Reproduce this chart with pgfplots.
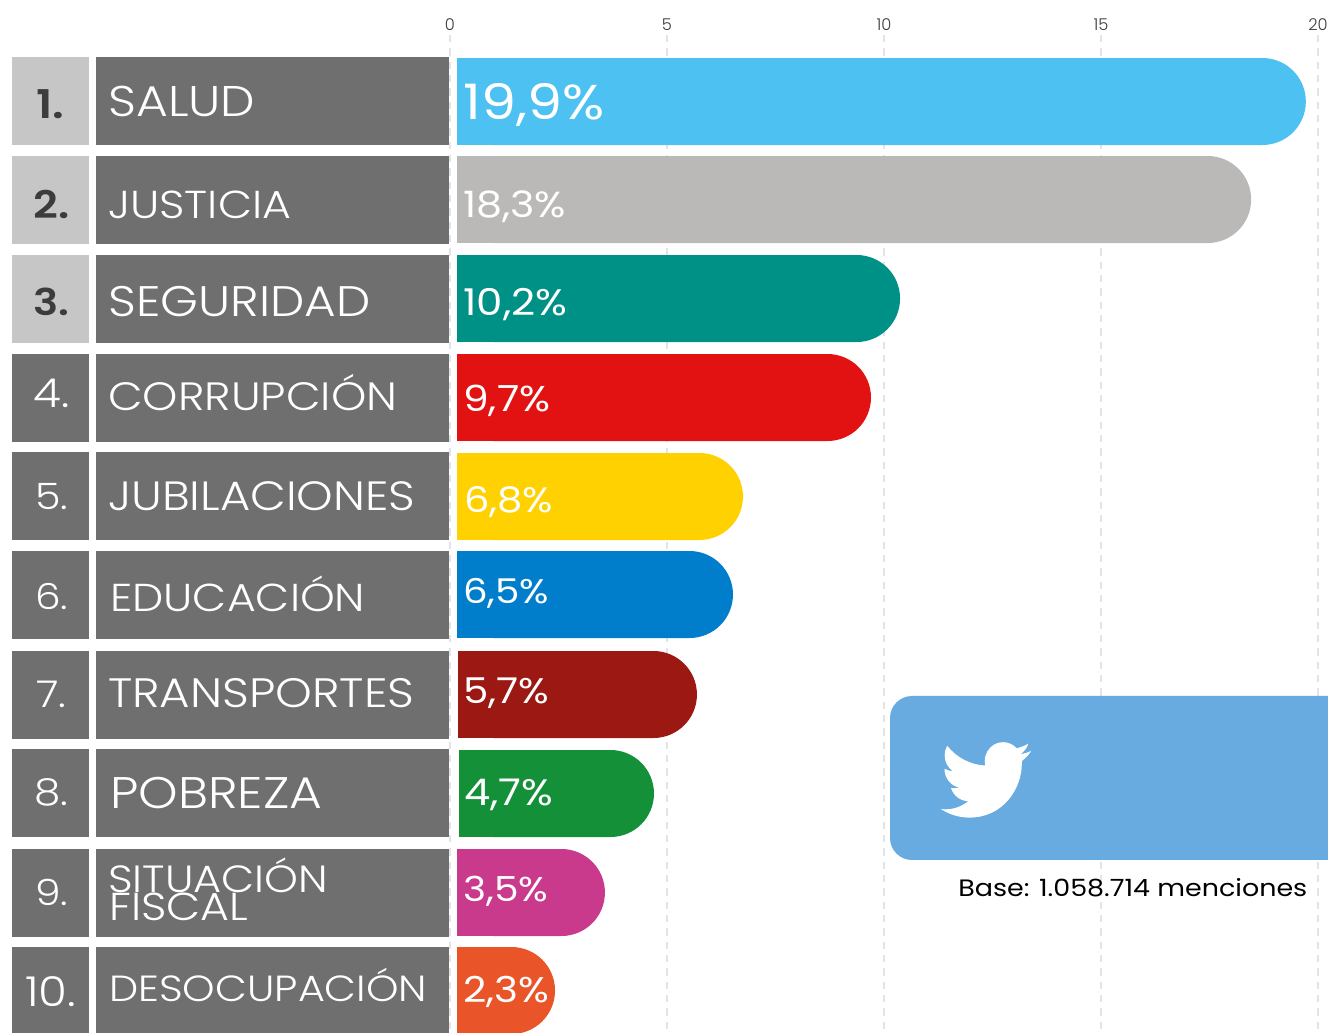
\documentclass[border=0pt]{standalone}
\usepackage{graphicx}
\usepackage{fontspec}
\usepackage{pgfplots}
\pgfplotsset{compat=1.18}
\usetikzlibrary{svg.path}
\setmainfont{Poppins}
\newfontfamily\plight{Poppins Light}
\newfontfamily\pbold{Poppins SemiBold}
\newdimen\pxu \pxu=0.75pt
\definecolor{cA}{HTML}{4DC1F1}
\definecolor{cB}{HTML}{BAB9B7}
\definecolor{cC}{HTML}{009186}
\definecolor{cD}{HTML}{E31212}
\definecolor{cE}{HTML}{FFD100}
\definecolor{cF}{HTML}{007DCB}
\definecolor{cG}{HTML}{9C1812}
\definecolor{cH}{HTML}{149038}
\definecolor{cI}{HTML}{C9398C}
\definecolor{cJ}{HTML}{E95428}
\definecolor{boxg}{HTML}{6F6F6F}
\definecolor{boxl}{HTML}{C6C6C6}
\definecolor{dark}{HTML}{3C3C3B}
\definecolor{tw}{HTML}{68ABE0}
\definecolor{gridc}{HTML}{E3E3EA}
% bar: value, row centre, colour
\newcommand\rbar[3]{%
  \addplot[xbar,bar shift=0pt,bar width=65.25pt,fill=#3,draw=none,rounded corners=32.6pt] coordinates {(#1,#2)};
  \addplot[xbar,bar shift=0pt,bar width=65.25pt,fill=#3,draw=none] coordinates {(1.3,#2)};
}
% text: x, baseline y, target width, font, colour, text
\newcommand\T[6]{\node[anchor=base west,inner sep=0pt,text=#5] at (#1,#2) {\scalebox{1}[0.88]{\resizebox{#3\pxu}{!}{#4#6}}};}
\newcommand\rowbox[3]{%
  \fill[#3] (12,#1) rectangle (89,#2);
  \fill[boxg] (96,#1) rectangle (449,#2);
}
\begin{document}
\begin{tikzpicture}
\useasboundingbox (0,0) rectangle (996pt,774pt);
\begin{axis}[
  at={(0,0)},anchor=south west,scale only axis,
  width=996pt,height=747.75pt,
  xmin=-10.3687,xmax=20.2304,ymin=35,ymax=1032,y dir=reverse,
  clip=false,
  axis line style={draw=none},
  major tick length=0pt,
  ytick=\empty,
  xtick={0,5,10,15,20},
  xticklabel pos=right,
  xticklabel style={anchor=center,yshift=8pt,font=\plight\fontsize{12.2pt}{13pt}\selectfont,text=dark},
  /pgf/number format/assume math mode=true,
  grid=major,
  major grid style={draw=gridc,line width=1.1pt,dash pattern=on 5.5pt off 4.5pt},
]
\rbar{19.72}{101.5}{cA}
\rbar{18.46}{199.5}{cB}
\rbar{10.37}{298.5}{cC}
\rbar{9.70}{397.5}{cD}
\rbar{6.75}{496.5}{cE}
\rbar{6.52}{594.5}{cF}
\rbar{5.69}{694.5}{cG}
\rbar{4.70}{793.5}{cH}
\rbar{3.57}{892.5}{cI}
\rbar{2.42}{990.5}{cJ}
\end{axis}
\begin{scope}[x=0.75pt,y=-0.75pt,yshift=774pt]
\fill[white] (449,50) rectangle (456.5,1045);
\fill[white] (456,651) rectangle (458,739);
\fill[white] (456,749) rectangle (459,838);
\draw[gridc,line width=1.1pt,dash pattern=on 5.5pt off 4.5pt] (450,35) -- (450,1032);
\rowbox{57}{145}{boxl}
\rowbox{156}{244}{boxl}
\rowbox{255}{343}{boxl}
\rowbox{354}{442}{boxg}
\rowbox{452}{540}{boxg}
\rowbox{551}{639}{boxg}
\rowbox{651}{739}{boxg}
\rowbox{749}{837}{boxg}
\rowbox{849}{937}{boxg}
\rowbox{947}{1036}{boxg}
\T{108}{117}{147}{\plight}{white}{SALUD}
\T{108}{219}{183}{\plight}{white}{JUSTICIA}
\T{108}{317}{262}{\plight}{white}{SEGURIDAD}
\T{108}{411}{289}{\plight}{white}{CORRUPCIÓN}
\T{108}{511}{307}{\plight}{white}{JUBILACIONES}
\T{110}{612}{255}{\plight}{white}{EDUCACIÓN}
\T{108}{708}{306}{\plight}{white}{TRANSPORTES}
\T{110}{809}{212}{\plight}{white}{POBREZA}
\T{108}{893}{220}{\plight}{white}{SITUACIÓN}
\T{109}{921}{139}{\plight}{white}{FISCAL}
\T{109}{1001}{318}{\plight}{white}{DESOCUPACIÓN}
\T{36}{119}{28}{\pbold}{dark}{1.}
\T{33}{219}{36}{\pbold}{dark}{2.}
\T{33}{316}{36}{\pbold}{dark}{3.}
\T{33}{408}{36}{\plight}{white}{4.}
\T{35}{510}{33}{\plight}{white}{5.}
\T{35}{610}{33}{\plight}{white}{6.}
\T{36}{708}{30}{\plight}{white}{7.}
\T{34}{806}{34}{\plight}{white}{8.}
\T{35}{906}{33}{\plight}{white}{9.}
\T{25}{1006}{51}{\plight}{white}{10.}
\T{463}{120}{141}{\rmfamily}{white}{19,9\%}
\T{463}{218}{103}{\rmfamily}{white}{18,3\%}
\T{463}{316}{104}{\rmfamily}{white}{10,2\%}
\T{463}{412}{87}{\rmfamily}{white}{9,7\%}
\T{464}{513}{89}{\rmfamily}{white}{6,8\%}
\T{463}{604}{86}{\rmfamily}{white}{6,5\%}
\T{463}{704}{86}{\rmfamily}{white}{5,7\%}
\T{464}{806}{89}{\rmfamily}{white}{4,7\%}
\T{463}{902}{85}{\rmfamily}{white}{3,5\%}
\T{463}{1002}{86}{\rmfamily}{white}{2,3\%}
\fill[tw,rounded corners=16.5pt] (890,696) rectangle (1380,860);
\T{958}{897}{349}{\rmfamily}{black}{Base: 1.058.714 menciones}
\begin{scope}[shift={(941,733.5)},xscale=2.8125,yscale=-2.9]
\fill[white] svg {M 23.953 4.57 a 10 10 0 0 1 -2.825 0.775 a 4.958 4.958 0 0 0 2.163 -2.723 c -0.951 0.555 -2.005 0.959 -3.127 1.184 a 4.92 4.92 0 0 0 -8.384 4.482 C 7.69 8.095 4.067 6.13 1.64 3.162 a 4.822 4.822 0 0 0 -0.666 2.475 c 0 1.71 0.87 3.213 2.188 4.096 a 4.904 4.904 0 0 1 -2.228 -0.616 v 0.06 a 4.923 4.923 0 0 0 3.946 4.827 a 4.996 4.996 0 0 1 -2.212 0.085 a 4.936 4.936 0 0 0 4.604 3.417 a 9.867 9.867 0 0 1 -6.102 2.105 c -0.39 0 -0.779 -0.023 -1.17 -0.067 a 13.995 13.995 0 0 0 7.557 2.209 c 9.053 0 13.998 -7.496 13.998 -13.985 c 0 -0.21 0 -0.42 -0.015 -0.63 A 9.935 9.935 0 0 0 24 4.59 z};
\end{scope}
\end{scope}
\end{tikzpicture}
\end{document}
